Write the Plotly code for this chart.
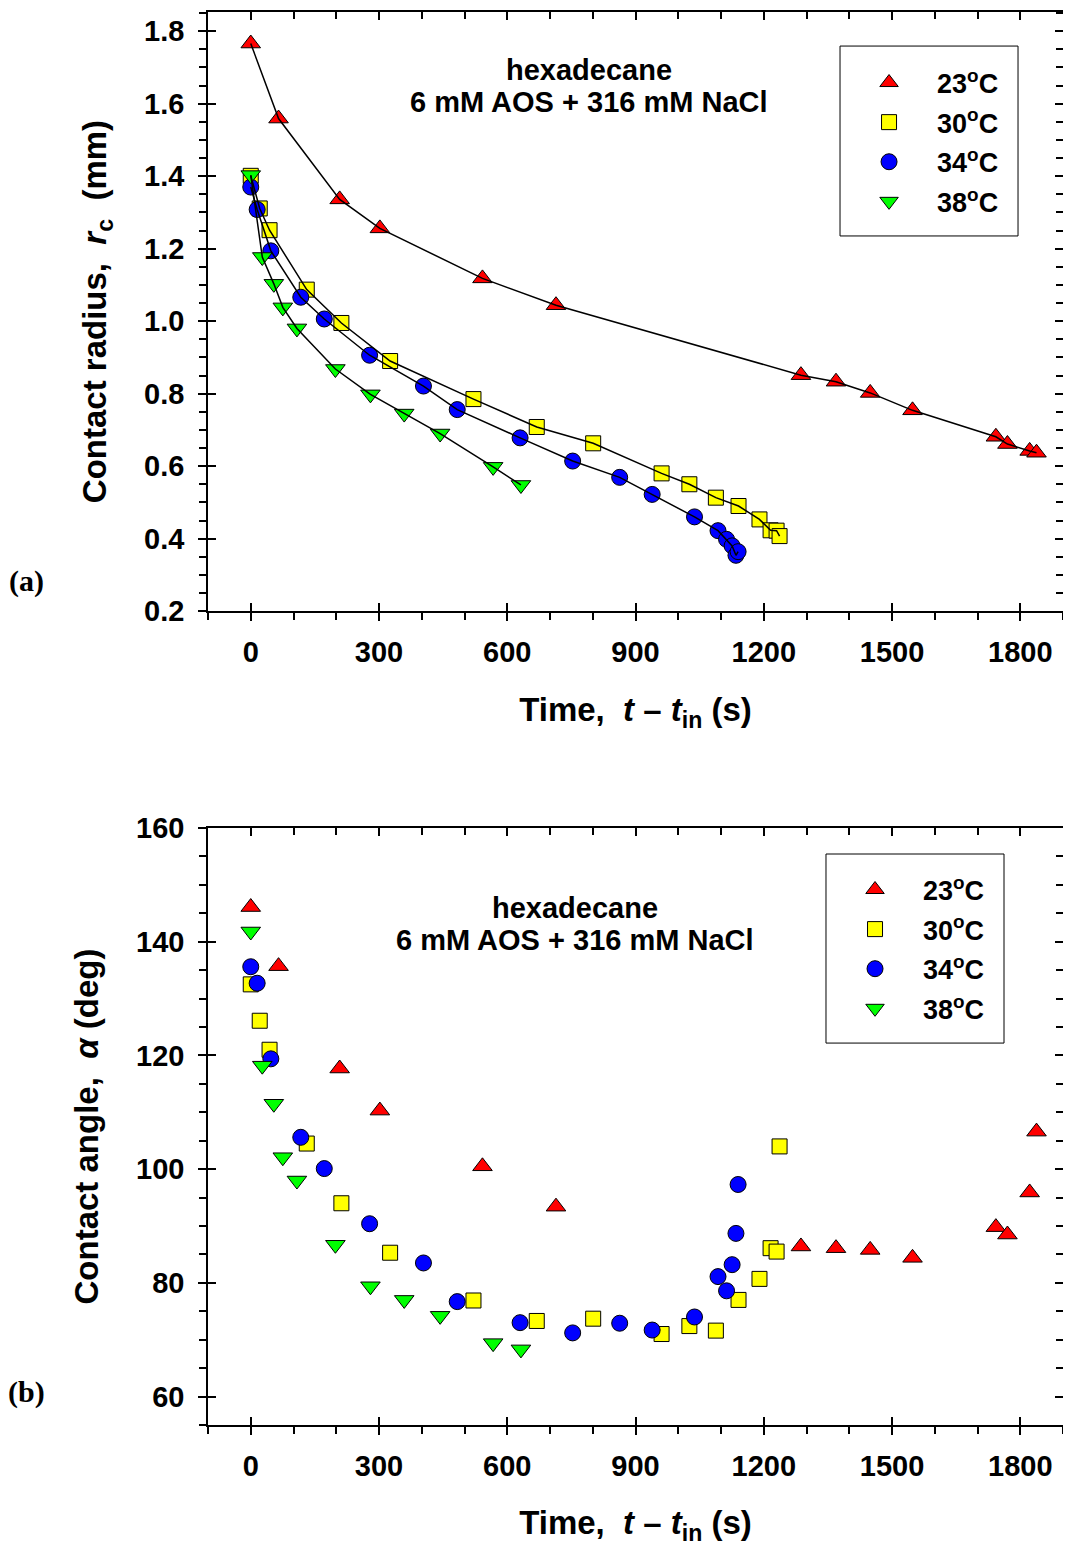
import plotly.graph_objects as go

# ---------------- data ----------------
names = ["23<sup>o</sup>C", "30<sup>o</sup>C", "34<sup>o</sup>C", "38<sup>o</sup>C"]

t23 = [0, 65, 208, 302, 542, 714, 1287, 1369, 1449, 1548, 1743, 1770, 1822, 1838]
r23 = [1.766, 1.559, 1.336, 1.256, 1.118, 1.044, 0.851, 0.833, 0.802, 0.754, 0.681, 0.661, 0.642, 0.637]
a23 = [146.1, 135.7, 117.7, 110.3, 100.5, 93.4, 86.4, 86.1, 85.8, 84.4, 89.8, 88.5, 95.9, 106.6]

t30 = [0, 21, 44, 131, 212, 326, 521, 669, 801, 961, 1026, 1088, 1141, 1190, 1216, 1230, 1237]
r30 = [1.401, 1.311, 1.251, 1.087, 0.995, 0.890, 0.785, 0.708, 0.663, 0.580, 0.550, 0.513, 0.490, 0.453, 0.423, 0.422, 0.407]
a30 = [132.5, 126.1, 121.0, 104.5, 94.0, 85.3, 76.9, 73.3, 73.7, 71.0, 72.4, 71.6, 77.0, 80.7, 86.1, 85.5, 104.0]

t34 = [0, 15, 47, 117, 172, 278, 404, 483, 630, 753, 863, 939, 1038, 1093, 1113, 1126, 1135, 1140]
r34 = [1.370, 1.308, 1.194, 1.066, 1.006, 0.906, 0.821, 0.756, 0.678, 0.614, 0.569, 0.522, 0.460, 0.422, 0.398, 0.380, 0.354, 0.364]
a34 = [135.6, 132.7, 119.4, 105.6, 100.1, 90.4, 83.5, 76.7, 73.0, 71.2, 72.9, 71.7, 74.0, 81.1, 78.6, 83.2, 88.7, 97.3]

t38 = [0, 27, 54, 75, 108, 198, 280, 359, 443, 567, 632]
r38 = [1.403, 1.177, 1.103, 1.038, 0.980, 0.868, 0.798, 0.745, 0.690, 0.598, 0.548]
a38 = [141.8, 118.2, 111.5, 102.1, 98.0, 86.7, 79.4, 77.0, 74.2, 69.4, 68.3]

x_range = [-100, 1900]
r_range = [0.2, 1.853]
a_range = [55, 160]

# ---------------- styles ----------------
FONT = "Liberation Sans, Arial, sans-serif"
SERIF = "Liberation Serif, Times New Roman, serif"
symbols = ["triangle-up", "square", "circle", "triangle-down"]
colors = ["#FF0000", "#FFFF00", "#0000FF", "#00FF00"]
sizes = [17, 15, 16, 17]
T = [t23, t30, t34, t38]
R = [r23, r30, r34, r38]
A = [a23, a30, a34, a38]

fig = go.Figure()

def marker(i):
    return dict(symbol=symbols[i], color=colors[i], size=sizes[i],
                line=dict(color="black", width=1))

# top panel markers
for i in range(4):
    fig.add_trace(go.Scatter(x=T[i], y=R[i], mode="markers", name=names[i],
                             marker=marker(i), xaxis="x", yaxis="y",
                             legend="legend", legendgroup="g%d" % i))
# top panel lines (drawn over the markers)
for i in range(4):
    fig.add_trace(go.Scatter(x=T[i], y=R[i], mode="lines", showlegend=False,
                             line=dict(color="black", width=1.5),
                             xaxis="x", yaxis="y", hoverinfo="skip"))
# bottom panel markers
for i in range(4):
    fig.add_trace(go.Scatter(x=T[i], y=A[i], mode="markers", name=names[i],
                             marker=marker(i), xaxis="x2", yaxis="y2",
                             legend="legend2", legendgroup="h%d" % i))

# empty traces so that the overlay (tick-only) axes are drawn
for xa, ya in [("x3", "y3"), ("x4", "y4"), ("x4", "y5"),
               ("x5", "y6"), ("x6", "y7"), ("x6", "y8")]:
    fig.add_trace(go.Scatter(x=[], y=[], mode="markers", showlegend=False,
                             xaxis=xa, yaxis=ya, hoverinfo="skip"))

tickfont = dict(family=FONT, size=29, color="black", weight="bold")
titlefont = dict(family=FONT, size=33, color="black", weight="bold")
LW = 1.5

def minor(dt, side):
    return dict(dtick=dt, ticks=side, ticklen=7, tickwidth=LW, tickcolor="black")

def base_x(**kw):
    d = dict(range=x_range, tick0=0, dtick=300, showgrid=False, zeroline=False,
             tickcolor="black", tickwidth=LW, linecolor="black", linewidth=LW)
    d.update(kw)
    return d

def base_y(rng, t0, dt, **kw):
    d = dict(range=rng, tick0=t0, dtick=dt, showgrid=False, zeroline=False,
             tickcolor="black", tickwidth=LW, linecolor="black", linewidth=LW)
    d.update(kw)
    return d

xtitle = "Time,\u00a0\u00a0<i>t</i> \u2013 <i>t</i><sub>in</sub> (s)"

legend_common = dict(xanchor="left", yanchor="top", borderwidth=0,
                     bgcolor="rgba(0,0,0,0)",
                     font=dict(family=FONT, size=27, color="black", weight="bold"),
                     itemwidth=86, tracegroupgap=1.5)

layout = dict(
    width=1063, height=1538,
    margin=dict(l=200, r=8, t=4, b=121, autoexpand=False),
    paper_bgcolor="white", plot_bgcolor="white",
    showlegend=True,
    # ---- top panel ----
    xaxis=base_x(anchor="y", ticks="outside", ticklen=8, showline=True,
                 minor=minor(100, "outside"),
                 tickfont=tickfont, ticklabelstandoff=6,
                 title=dict(text=xtitle, font=titlefont, standoff=31)),
    xaxis3=base_x(overlaying="x", anchor="y", side="bottom", ticks="inside", ticklen=8,
                  showline=False, showticklabels=False),
    xaxis4=base_x(overlaying="x", anchor="y", side="top", ticks="inside", ticklen=8,
                  showline=True, showticklabels=False, minor=minor(100, "inside")),
    yaxis=base_y(r_range, 0.2, 0.2, domain=[0.576, 1.0], anchor="x", ticks="outside", ticklen=8,
                 showline=True, tickformat=".1f", minor=minor(0.05, "outside"),
                 tickfont=tickfont, ticklabelstandoff=8,
                 title=dict(text="Contact radius,\u00a0\u00a0<i>r</i><sub>c</sub>\u00a0\u00a0(mm)",
                            font=titlefont, standoff=28)),
    yaxis3=base_y(r_range, 0.2, 0.2, overlaying="y", anchor="x", side="left", ticks="inside",
                  ticklen=8, showline=False, showticklabels=False),
    yaxis4=base_y(r_range, 0.2, 0.2, overlaying="y", anchor="x", side="right", ticks="inside",
                  ticklen=8, showline=True, showticklabels=False, minor=minor(0.05, "inside")),
    yaxis5=base_y(r_range, 0.2, 0.2, overlaying="y", anchor="x", side="right", ticks="outside",
                  ticklen=8, showline=False, showticklabels=False),
    # ---- bottom panel ----
    xaxis2=base_x(anchor="y2", ticks="outside", ticklen=8, showline=True,
                  minor=minor(100, "outside"),
                  tickfont=tickfont, ticklabelstandoff=6,
                  title=dict(text=xtitle, font=titlefont, standoff=32)),
    xaxis5=base_x(overlaying="x2", anchor="y2", side="bottom", ticks="inside", ticklen=8,
                  showline=False, showticklabels=False),
    xaxis6=base_x(overlaying="x2", anchor="y2", side="top", ticks="inside", ticklen=8,
                  showline=True, showticklabels=False, minor=minor(100, "inside")),
    yaxis2=base_y(a_range, 0, 20, domain=[0.0, 0.4225], anchor="x2", ticks="outside", ticklen=8,
                  showline=True, minor=minor(5, "outside"),
                  tickfont=tickfont, ticklabelstandoff=8,
                  title=dict(text="Contact angle,\u00a0\u00a0<i>\u03b1</i> (deg)",
                             font=titlefont, standoff=28)),
    yaxis6=base_y(a_range, 0, 20, overlaying="y2", anchor="x2", side="left", ticks="inside",
                  ticklen=8, showline=False, showticklabels=False),
    yaxis7=base_y(a_range, 0, 20, overlaying="y2", anchor="x2", side="right", ticks="inside",
                  ticklen=8, showline=True, showticklabels=False, minor=minor(5, "inside")),
    yaxis8=base_y(a_range, 0, 20, overlaying="y2", anchor="x2", side="right", ticks="outside",
                  ticklen=8, showline=False, showticklabels=False),
    legend=dict(x=0.7404, y=0.9671, **legend_common),
    legend2=dict(x=0.7240, y=0.3960, **legend_common),
)

# legend frames
layout["shapes"] = [
    dict(type="rect", xref="paper", yref="paper", x0=0.7392, x1=0.9474, y0=0.8415, y1=0.9759,
         line=dict(color="black", width=1), fillcolor="rgba(0,0,0,0)", layer="below"),
    dict(type="rect", xref="paper", yref="paper", x0=0.7228, x1=0.9310, y0=0.2703, y1=0.4041,
         line=dict(color="black", width=1), fillcolor="rgba(0,0,0,0)", layer="below"),
]

ann_font = dict(family=FONT, size=29, color="black", weight="bold")
lab_font = dict(family=SERIF, size=30, color="black", weight="bold")
layout["annotations"] = [
    dict(text="hexadecane", x=0.4456, y=0.959, xref="paper", yref="paper",
         showarrow=False, font=ann_font, xanchor="center", yanchor="middle"),
    dict(text="6 mM AOS + 316 mM NaCl", x=0.4456, y=0.9363, xref="paper", yref="paper",
         showarrow=False, font=ann_font, xanchor="center", yanchor="middle"),
    dict(text="hexadecane", x=0.4292, y=0.3659, xref="paper", yref="paper",
         showarrow=False, font=ann_font, xanchor="center", yanchor="middle"),
    dict(text="6 mM AOS + 316 mM NaCl", x=0.4292, y=0.3432, xref="paper", yref="paper",
         showarrow=False, font=ann_font, xanchor="center", yanchor="middle"),
    dict(text="(a)", x=-0.2117, y=0.5973, xref="paper", yref="paper", showarrow=False,
         font=lab_font, xanchor="center", yanchor="middle"),
    dict(text="(b)", x=-0.2117, y=0.02335, xref="paper", yref="paper", showarrow=False,
         font=lab_font, xanchor="center", yanchor="middle"),
]
fig.update_layout(**layout)

fig.write_html("out.html")
